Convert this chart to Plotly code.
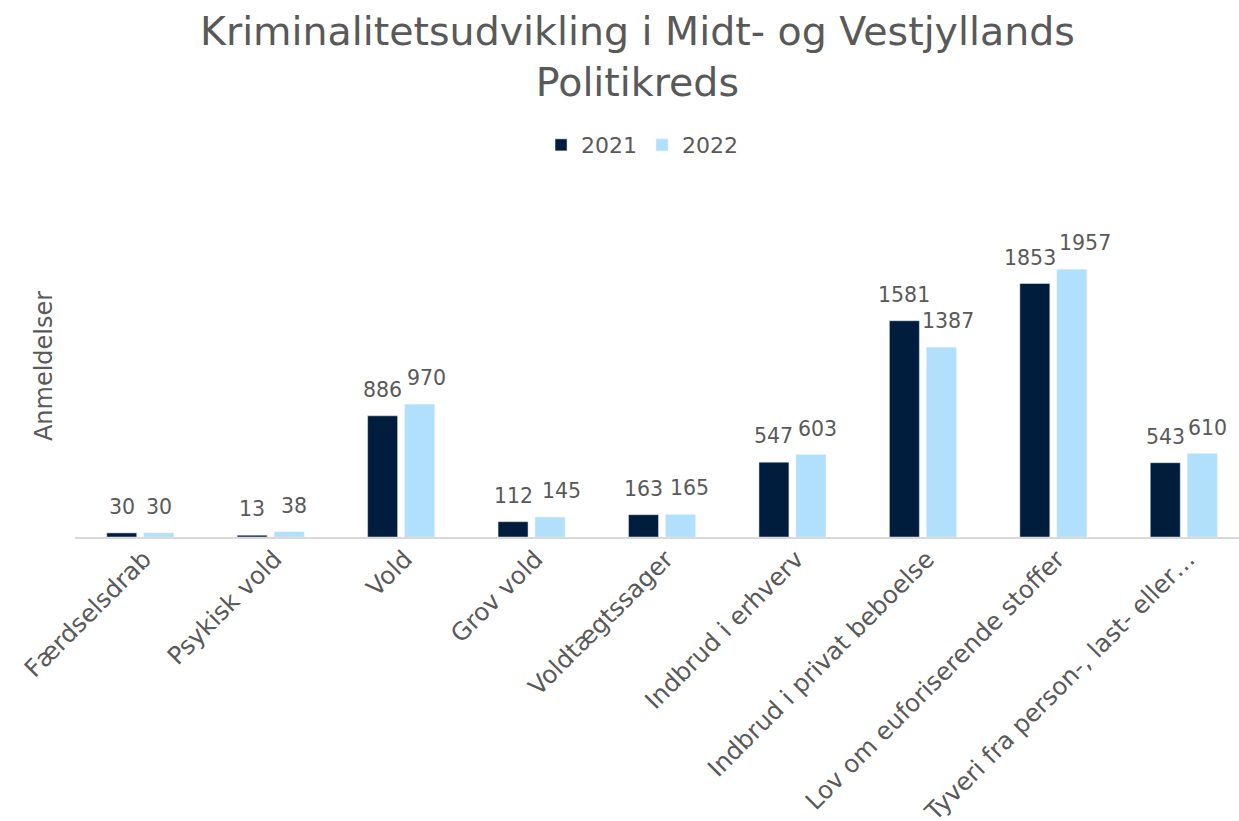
import plotly.graph_objects as go

categories = ["Færdselsdrab", "Psykisk vold", "Vold", "Grov vold", "Voldtægtssager",
              "Indbrud i erhverv", "Indbrud i privat beboelse", "Lov om euforiserende stoffer",
              "Tyveri fra person-, last- eller…"]
v2021 = [30, 13, 886, 112, 163, 547, 1581, 1853, 543]
v2022 = [30, 38, 970, 145, 165, 603, 1387, 1957, 610]

# label nudges (pixels) to mimic the reference's overlap avoidance
nudge2021 = [0, 0, 0, 0, 0, 0, 0, -5, 0]
nudge2022 = [0, 5, 7, 11, 9, 7, 7, 13, 5]

FONT = "DejaVu Sans"
GRAY = "#595959"
C2021 = "#001D3D"
C2022 = "#B0E0FB"

fig = go.Figure()
fig.add_trace(go.Bar(name="2021", x=categories, y=v2021, marker_color=C2021))
fig.add_trace(go.Bar(name="2022", x=categories, y=v2022, marker_color=C2022))

half = 18.5
for series, nud, sgn in ((v2021, nudge2021, -1), (v2022, nudge2022, 1)):
    for cat, val, n in zip(categories, series, nud):
        fig.add_annotation(x=cat, y=val, xref="x", yref="y", text=str(val),
                           showarrow=False, yanchor="bottom", xanchor="center",
                           xshift=sgn * half + n, yshift=12,
                           font=dict(size=20.5, color=GRAY, family=FONT))

fig.add_annotation(text="Kriminalitetsudvikling i Midt- og Vestjyllands<br>Politikreds",
                   x=0.479, y=1.404, xref="paper", yref="paper", xanchor="center",
                   yanchor="middle", showarrow=False,
                   font=dict(size=39.5, color=GRAY, family=FONT))

fig.update_layout(
    width=1250, height=821,
    barmode="group", bargap=0.4325, bargroupgap=0.19,
    paper_bgcolor="white", plot_bgcolor="white",
    font=dict(family=FONT, color=GRAY),
    legend=dict(orientation="h", x=0.483, xanchor="center", y=1.146, yanchor="middle",
                font=dict(size=22, color=GRAY, family=FONT), itemwidth=30,
                traceorder="normal"),
    margin=dict(l=75, r=1, t=195, b=284),
    xaxis=dict(tickangle=-45, tickfont=dict(size=24.5, color=GRAY, family=FONT),
               showline=True, linecolor="#D9D9D9", linewidth=2, ticks="",
               automargin=False, ticklabelstandoff=-4, ticklabelshift=4),
    yaxis=dict(range=[0, 2500], showticklabels=False, showgrid=False, zeroline=False,
               automargin=False,
               title=dict(text="Anmeldelser", font=dict(size=24, color=GRAY, family=FONT),
                          standoff=14)),
)

fig.write_html("out.html", config={"displayModeBar": False},
               post_script="document.body.style.margin='0px';document.body.style.overflow='hidden';")
